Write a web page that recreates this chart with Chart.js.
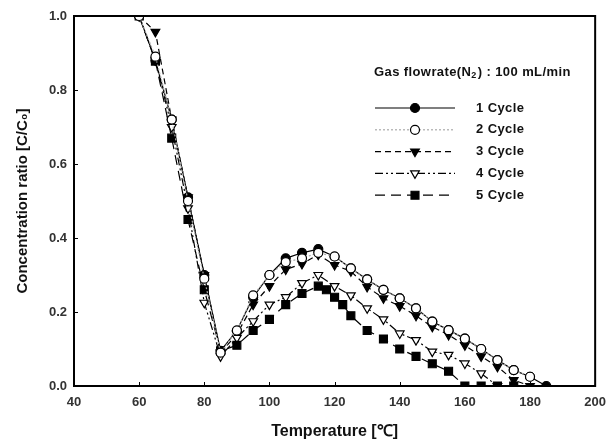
<!DOCTYPE html>
<html>
<head>
<meta charset="utf-8">
<script src="https://cdn.jsdelivr.net/npm/chart.js@4/dist/chart.umd.min.js"></script>
<style>
  html, body { margin: 0; padding: 0; background: #fff; }
  #wrap { width: 615px; height: 447px; }
</style>
</head>
<body>
<div id="wrap"><canvas id="c" width="615" height="447"></canvas></div>
<script>
// Temperatures (°C) sampled every 5 degrees
const temperatures = [60, 65, 70, 75, 80, 85, 90, 95, 100, 105, 110, 115, 120, 125, 130, 135, 140, 145, 150, 155, 160, 165, 170, 175, 180, 185];

// Concentration ratio C/C0 for each adsorption cycle
const cycle1 = [1.0, 0.88, 0.72, 0.51, 0.30, 0.095, 0.15, 0.24, 0.30, 0.345, 0.36, 0.37, 0.35, 0.318, 0.288, 0.26, 0.237, 0.21, 0.174, 0.151, 0.128, 0.10, 0.07, 0.043, 0.025, 0.0];
const cycle2 = [1.0, 0.89, 0.72, 0.50, 0.29, 0.09, 0.15, 0.245, 0.30, 0.335, 0.345, 0.36, 0.35, 0.318, 0.288, 0.26, 0.237, 0.21, 0.174, 0.151, 0.128, 0.10, 0.07, 0.043, 0.025, null];
const cycle3 = [1.0, 0.957, 0.72, 0.51, 0.30, 0.09, 0.14, 0.22, 0.27, 0.315, 0.33, 0.355, 0.327, 0.31, 0.268, 0.237, 0.216, 0.19, 0.16, 0.138, 0.11, 0.08, 0.052, 0.016, 0.0, null];
const cycle4 = [1.0, 0.88, 0.70, 0.48, 0.225, 0.08, 0.13, 0.175, 0.22, 0.24, 0.278, 0.30, 0.27, 0.245, 0.21, 0.18, 0.142, 0.124, 0.093, 0.084, 0.061, 0.034, 0.0, null, null, null];

// Cycle 5 was sampled more finely around its peak
const temperatures5 = [60, 65, 70, 75, 80, 85, 90, 95, 100, 105, 110, 115, 117.5, 120, 122.5, 125, 130, 135, 140, 145, 150, 155, 160, 165, 170, 175];
const cycle5 = [1.0, 0.878, 0.67, 0.45, 0.26, 0.095, 0.11, 0.15, 0.18, 0.22, 0.25, 0.27, 0.26, 0.24, 0.22, 0.19, 0.15, 0.127, 0.10, 0.08, 0.06, 0.04, 0.0, 0.0, 0.0, 0.0];

const seriesNames = ['1 Cycle', '2 Cycle', '3 Cycle', '4 Cycle', '5 Cycle'];
const xTicks = [40, 60, 80, 100, 120, 140, 160, 180, 200];
const yTicks = [0.0, 0.2, 0.4, 0.6, 0.8, 1.0];

const legendTitle = ['Gas flowrate(N', '2', ') : 100 mL/min'];

function pairs(xs, ys) {
  const out = [];
  xs.forEach((x, i) => { if (ys[i] !== null && ys[i] !== undefined) out.push({ x: x, y: ys[i] }); });
  return out;
}

// Line and marker style per cycle; "order" puts open circles above the filled ones
const styles = [
  { order: 4, borderColor: '#000', borderDash: [], pointStyle: 'circle', pointRadius: 4.5, pointBackgroundColor: '#000', pointRotation: 0 },
  { order: 0, borderColor: '#aaa', borderDash: [2, 2], pointStyle: 'circle', pointRadius: 4.5, pointBackgroundColor: '#fff', pointRotation: 0 },
  { order: 3, borderColor: '#000', borderDash: [6, 4], pointStyle: 'triangle', pointRadius: 5, pointBackgroundColor: '#000', pointRotation: 180 },
  { order: 2, borderColor: '#000', borderDash: [8, 3, 2, 3, 2, 3], pointStyle: 'triangle', pointRadius: 5, pointBackgroundColor: '#fff', pointRotation: 180 },
  { order: 1, borderColor: '#000', borderDash: [10, 6], pointStyle: 'rect', pointRadius: 5.6, pointBackgroundColor: '#000', pointRotation: 0 }
];

const seriesData = [
  pairs(temperatures, cycle1),
  pairs(temperatures, cycle2),
  pairs(temperatures, cycle3),
  pairs(temperatures, cycle4),
  pairs(temperatures5, cycle5)
];

const datasets = seriesNames.map((name, i) => Object.assign({
  label: name,
  data: seriesData[i],
  borderWidth: 1.2,
  pointBorderColor: '#000',
  pointBorderWidth: 1.2,
  pointHoverRadius: 5,
  fill: false,
  tension: 0
}, styles[i]));

// Frame around the plot area and inward tick marks
const framePlugin = {
  id: 'frame',
  afterDatasetsDraw(chart) {
    const { ctx, chartArea: a, scales } = chart;
    ctx.save();
    ctx.strokeStyle = '#000';
    ctx.lineWidth = 1;
    ctx.setLineDash([]);
    scales.x.ticks.forEach(t => {
      const px = Math.round(scales.x.getPixelForValue(t.value)) + 0.5;
      ctx.beginPath(); ctx.moveTo(px, a.bottom); ctx.lineTo(px, a.bottom - 4); ctx.stroke();
    });
    scales.y.ticks.forEach(t => {
      const py = Math.round(scales.y.getPixelForValue(t.value)) + 0.5;
      ctx.beginPath(); ctx.moveTo(a.left, py); ctx.lineTo(a.left + 4, py); ctx.stroke();
    });
    ctx.lineWidth = 2;
    ctx.strokeRect(a.left, a.top, a.right - a.left, a.bottom - a.top);
    ctx.restore();
  }
};

// Legend drawn inside the plot: header line, then one sample per cycle
const legendPlugin = {
  id: 'cycleLegend',
  afterDraw(chart) {
    const ctx = chart.ctx;
    const lx0 = 375, lx1 = 455, mx = 415, tx = 476;
    const headY = 72, rowY0 = 108, rowStep = 21.8;
    const font = 'bold 13px "Liberation Sans", Arial, sans-serif';
    ctx.save();
    ctx.fillStyle = '#111';
    ctx.textBaseline = 'middle';
    ctx.textAlign = 'left';
    ctx.letterSpacing = '0.4px';
    ctx.font = font;
    let x = lx0 - 1;
    ctx.fillText(legendTitle[0], x, headY);
    x += ctx.measureText(legendTitle[0]).width;
    ctx.font = 'bold 9px "Liberation Sans", Arial, sans-serif';
    ctx.fillText(legendTitle[1], x, headY + 4);
    x += ctx.measureText(legendTitle[1]).width + 1;
    ctx.font = font;
    ctx.fillText(legendTitle[2], x, headY);

    chart.data.datasets.forEach((ds, i) => {
      const y = rowY0 + i * rowStep;
      ctx.strokeStyle = ds.borderColor;
      ctx.lineWidth = ds.borderWidth;
      ctx.setLineDash(ds.borderDash || []);
      ctx.beginPath(); ctx.moveTo(lx0, y); ctx.lineTo(lx1, y); ctx.stroke();
      ctx.setLineDash([]);
      ctx.fillStyle = ds.pointBackgroundColor;
      ctx.strokeStyle = ds.pointBorderColor;
      ctx.lineWidth = ds.pointBorderWidth;
      Chart.helpers.drawPoint(ctx, {
        pointStyle: ds.pointStyle,
        radius: ds.pointRadius,
        rotation: ds.pointRotation,
        borderWidth: ds.pointBorderWidth
      }, mx, y);
      ctx.fillStyle = '#111';
      ctx.font = font;
      ctx.fillText(ds.label, tx, y);
    });
    ctx.restore();
  }
};

const tickFont = { family: '"Liberation Sans", Arial, sans-serif', size: 13, weight: 'bold' };
const yTitleFont = { family: '"Liberation Sans", Arial, sans-serif', size: 15, weight: 'bold' };
const xTitleFont = { family: '"Liberation Sans", Arial, sans-serif', size: 16, weight: 'bold' };

new Chart(document.getElementById('c'), {
  type: 'line',
  data: { datasets: datasets },
  options: {
    responsive: false,
    animation: false,
    devicePixelRatio: 1,
    layout: { padding: { left: 0, top: 16, right: 13, bottom: 0 } },
    plugins: { legend: { display: false }, tooltip: { enabled: false } },
    scales: {
      x: {
        type: 'linear',
        min: 40, max: 200,
        afterBuildTicks: s => { s.ticks = xTicks.map(v => ({ value: v })); },
        afterFit: s => { s.height = 61; },
        grid: { display: false, drawTicks: false },
        border: { display: false },
        ticks: { font: tickFont, color: '#333', padding: 9, maxRotation: 0, callback: v => String(v) },
        title: { display: true, text: 'Temperature [\u2103]', font: xTitleFont, color: '#111', padding: { top: 0, bottom: 6 } }
      },
      y: {
        type: 'linear',
        min: 0, max: 1,
        afterBuildTicks: s => { s.ticks = yTicks.map(v => ({ value: v })); },
        afterFit: s => { s.width = 74; },
        grid: { display: false, drawTicks: false },
        border: { display: false },
        ticks: { font: tickFont, color: '#333', padding: 7, callback: v => Number(v).toFixed(1) },
        title: { display: true, text: 'Concentration ratio [C/C\u2080]', font: yTitleFont, color: '#111', padding: { top: 14, bottom: 0 } }
      }
    }
  },
  plugins: [framePlugin, legendPlugin]
});
</script>
</body>
</html>
